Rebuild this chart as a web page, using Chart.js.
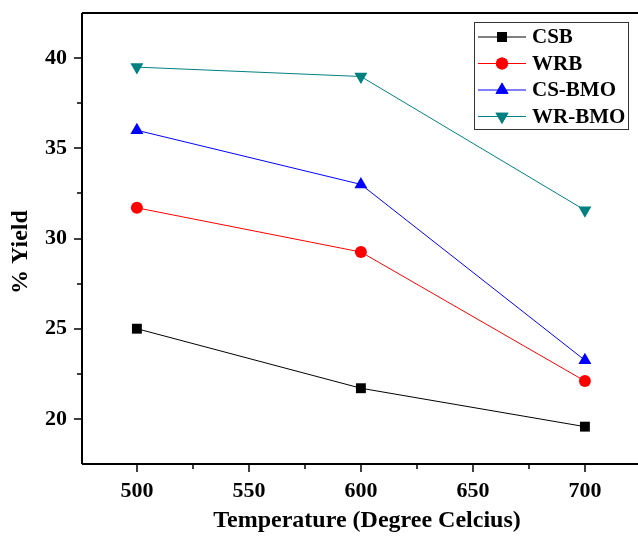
<!DOCTYPE html>
<html><head><meta charset="utf-8">
<script src="https://cdn.jsdelivr.net/npm/chart.js@4.4.0/dist/chart.umd.min.js"></script>
<style>html,body{margin:0;padding:0;background:#fff}#wrap{width:638px;height:538px}</style>
</head><body><div id="wrap"><canvas id="c" width="638" height="538"></canvas></div>
<script>
const temperatures = [500, 600, 700];
const csb = [25.0, 21.7, 19.57];
const wrb = [31.7, 29.25, 22.1];
const csBmo = [36.0, 33.0, 23.25];
const wrBmo = [39.5, 38.98, 31.57];
const seriesNames = ['CSB', 'WRB', 'CS-BMO', 'WR-BMO'];
const xTicks = [500, 550, 600, 650, 700];
const yTicks = [20, 25, 30, 35, 40];
const xTitle = 'Temperature (Degree Celcius)';
const yTitle = '% Yield';

const FONT = '"Liberation Serif", "Times New Roman", serif';
const styles = [
  {color:'#000000', style:'rect', r:7, rot:0},
  {color:'#ff0000', style:'circle', r:6, rot:0},
  {color:'#0000ff', style:'triangle', r:7.5, rot:0},
  {color:'#008080', style:'triangle', r:7.5, rot:180}
];
const values = [csb, wrb, csBmo, wrBmo];
const datasets = values.map((vals, i) => ({
  label: seriesNames[i],
  data: temperatures.map((t, j) => ({x: t, y: vals[j]})),
  borderColor: styles[i].color,
  backgroundColor: styles[i].color,
  borderWidth: 1,
  pointStyle: styles[i].style,
  pointRadius: styles[i].r,
  pointRotation: styles[i].rot,
  pointBorderWidth: 0,
  pointHoverRadius: styles[i].r,
  tension: 0
}));

const framePlugin = {
  id: 'frame',
  afterDraw(chart) {
    const {ctx, chartArea: a, scales: {x, y}} = chart;
    ctx.save();
    ctx.strokeStyle = '#000';
    ctx.lineWidth = 2;
    ctx.beginPath();
    ctx.moveTo(a.left, a.top); ctx.lineTo(a.right, a.top);
    ctx.moveTo(a.left, a.top); ctx.lineTo(a.left, a.bottom);
    ctx.moveTo(a.left, a.bottom); ctx.lineTo(a.right, a.bottom);
    ctx.stroke();
    ctx.lineWidth = 1.5;
    ctx.beginPath();
    for (let v = 475; v <= 725; v += 25) {
      const px = Math.round(x.getPixelForValue(v));
      if (px < a.left + 1 || px > a.right) continue;
      const len = (v % 50 === 0) ? 8 : 5;
      ctx.moveTo(px, a.bottom); ctx.lineTo(px, a.bottom + len);
    }
    for (let v = 17.5; v <= 42.5; v += 2.5) {
      const py = Math.round(y.getPixelForValue(v));
      if (py > a.bottom - 1 || py < a.top + 1) continue;
      const len = (v % 5 === 0) ? 8 : 5;
      ctx.moveTo(a.left, py); ctx.lineTo(a.left - len, py);
    }
    ctx.stroke();
    // axis titles
    ctx.fillStyle = '#000';
    ctx.textAlign = 'center';
    ctx.textBaseline = 'middle';
    ctx.font = 'bold 24px ' + FONT;
    ctx.fillText(xTitle, 367, 521);
    ctx.save();
    ctx.translate(21, 252);
    ctx.rotate(-Math.PI / 2);
    ctx.fillText(yTitle, 0, 0);
    ctx.restore();
    // legend
    const lx = 474, ly = 22, lw = 154, lh = 107;
    ctx.lineWidth = 1;
    ctx.strokeStyle = '#333';
    ctx.strokeRect(lx + 0.5, ly + 0.5, lw, lh);
    ctx.font = 'bold 21px ' + FONT;
    ctx.textBaseline = 'middle';
    ctx.textAlign = 'left';
    seriesNames.forEach((name, i) => {
      const cy = ly + 15 + i * 26.5;
      ctx.strokeStyle = styles[i].color;
      ctx.lineWidth = 1;
      ctx.beginPath();
      ctx.moveTo(478, cy); ctx.lineTo(526, cy);
      ctx.stroke();
      ctx.fillStyle = styles[i].color;
      Chart.helpers.drawPoint(ctx, {pointStyle: styles[i].style, radius: styles[i].r, rotation: styles[i].rot, borderWidth: 0}, 502, cy);
      ctx.fill();
      ctx.fillStyle = '#000';
      ctx.fillText(name, 532, cy + 1);
    });
    ctx.restore();
  }
};

new Chart(document.getElementById('c'), {
  type: 'line',
  data: {datasets},
  options: {
    responsive: false,
    animation: false,
    devicePixelRatio: 1,
    layout: {autoPadding: false, padding: {top: 13, right: 0, left: 0, bottom: 0}},
    plugins: {legend: {display: false}, tooltip: {enabled: false}},
    scales: {
      x: {
        type: 'linear', min: 475.5, max: 723.7,
        afterBuildTicks: s => { s.ticks = xTicks.map(v => ({value: v})); },
        afterFit: s => { s.height = 74; s.paddingLeft = 0; s.paddingRight = 0; },
        border: {display: false},
        grid: {drawOnChartArea: false, color: 'rgba(0,0,0,0)', tickLength: 8},
        ticks: {color: '#000', font: {family: FONT, size: 22, weight: 'bold'}, padding: 6, maxRotation: 0},
        title: {display: false}
      },
      y: {
        type: 'linear', min: 17.5, max: 42.5,
        afterBuildTicks: s => { s.ticks = yTicks.map(v => ({value: v})); },
        afterFit: s => { s.width = 82; s.paddingTop = 0; s.paddingBottom = 0; },
        border: {display: false},
        grid: {drawOnChartArea: false, color: 'rgba(0,0,0,0)', tickLength: 8},
        ticks: {color: '#000', font: {family: FONT, size: 22, weight: 'bold'}, padding: 7},
        title: {display: false}
      }
    }
  },
  plugins: [framePlugin]
});
</script></body></html>
